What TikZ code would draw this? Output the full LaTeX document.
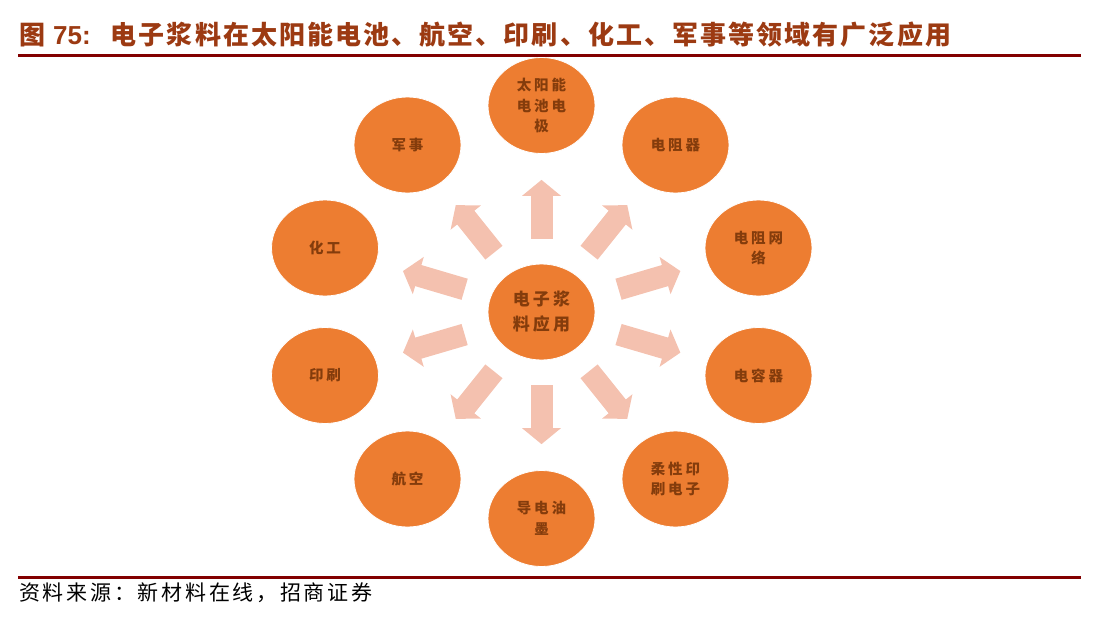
\documentclass[tikz,border=0pt]{standalone}
\usepackage{fontspec}
\usepackage{tikz}
\usetikzlibrary{arrows.meta,shapes.geometric,calc}
\newfontfamily\cjktitle[LetterSpace=8]{Noto Sans CJK SC}
\newfontfamily\cjkleaf[LetterSpace=20]{Noto Sans CJK SC}
\newfontfamily\cjkhub[LetterSpace=18]{Noto Sans CJK SC}
\newfontfamily\cjksrc[LetterSpace=13]{Noto Sans CJK SC}
\newfontfamily\arialf{Liberation Sans}
\definecolor{leaforange}{HTML}{ED7D31}
\definecolor{leaftext}{HTML}{843C0C}
\definecolor{arrowpink}{HTML}{F4C1AF}
\definecolor{titlered}{HTML}{9C3A12}
\definecolor{ruledark}{HTML}{820000}
\tikzset{
  leafbox/.style={ellipse, fill=leaforange, draw=white, line width=0.8pt,
    minimum width=107pt, minimum height=96pt, inner sep=0pt, align=center,
    text=leaftext, font=\cjkleaf\bfseries\fontsize{14.5}{20.5}\selectfont},
  hubbox/.style={leafbox, font=\cjkhub\bfseries\fontsize{17}{25}\selectfont},
  fatarr/.style={-{Triangle[length=16pt, width=38pt]}, line width=22pt, draw=arrowpink},
  rulebar/.style={draw=ruledark, line width=3pt}
}
\begin{document}
\begin{tikzpicture}[x=1pt, y=1pt]
    \useasboundingbox (0,0) rectangle (1093,-624);
    \node[anchor=west, text=titlered, inner sep=0pt, font=\bfseries\fontsize{26}{30}\selectfont] (title) at (19,-35)
      {\cjktitle 图 {\arialf 75:}\hspace{20pt}电子浆料在太阳能电池、航空、印刷、化工、军事等领域有广泛应用};
    \coordinate (tl) at (18,-55);
    \coordinate (tr) at (1081,-55);
    \coordinate (bl) at (18,-577);
    \coordinate (br) at (1081,-577);
    \draw[rulebar] (tl) -- (tr);
    \draw[rulebar] (bl) -- (br);
    \node[hubbox] (hub) at (541.5,-312) {电子浆\\料应用};
    \node[leafbox] (solar) at (541.5,-105.5) {太阳能\\电池电\\极};
    \node[leafbox] (resistor) at (675.5,-145) {电阻器};
    \node[leafbox] (network) at (758.5,-248) {电阻网\\络};
    \node[leafbox] (capacitor) at (758.5,-375.5) {电容器};
    \node[leafbox] (flex) at (675.5,-479) {柔性印\\刷电子};
    \node[leafbox] (ink) at (541.5,-518.5) {导电油\\墨};
    \node[leafbox] (aviation) at (407.5,-479) {航空};
    \node[leafbox] (printing) at (325,-375.5) {印刷};
    \node[leafbox] (chemical) at (325,-248) {化工};
    \node[leafbox] (military) at (407.5,-145) {军事};
    \foreach \n in {solar,resistor,network,capacitor,flex,ink,aviation,printing,chemical,military}
      \draw[fatarr] ($(hub)!0.355!(\n)$) -- ($(hub)!0.64!(\n)$);
    \node[anchor=west, inner sep=0pt, font=\cjksrc\fontsize{21}{24}\selectfont] (source) at (19,-593)
      {资料来源：新材料在线，招商证券};
  \end{tikzpicture}
\end{document}
